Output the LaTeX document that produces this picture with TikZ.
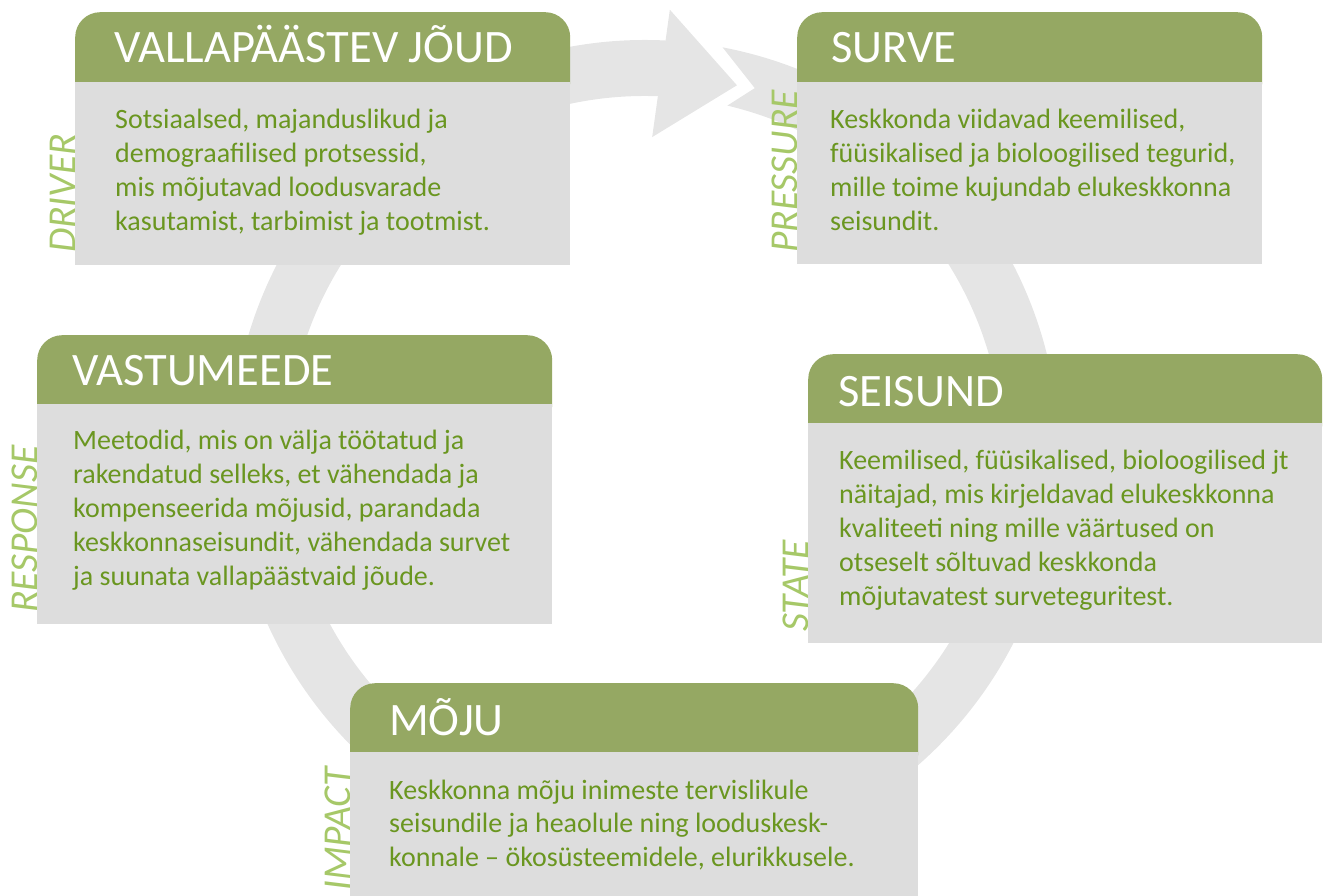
\documentclass[tikz,border=0pt]{standalone}
\usepackage{fontspec}
\setmainfont{Carlito}
\definecolor{headgreen}{RGB}{149,168,99}
\definecolor{panelgray}{RGB}{221,221,221}
\definecolor{textgreen}{RGB}{106,150,32}
\definecolor{taggreen}{RGB}{166,200,104}
\definecolor{ringgray}{RGB}{229,229,229}
\begin{document}
\begin{tikzpicture}[x=1pt, y=1pt,
    head/.style={fill=headgreen, rounded corners=25pt, minimum height=95pt, inner sep=0pt, anchor=north west},
    panel/.style={fill=panelgray, inner sep=0pt, anchor=north west},
    title/.style={text=white, font=\fontsize{46.5}{55}\selectfont, anchor=base west, inner sep=0pt},
    blurb/.style={text=textgreen, font=\fontsize{28}{33.8}\selectfont, align=left, anchor=base west, inner sep=0pt},
    tag/.style={text=taggreen, font=\itshape\fontsize{39.5}{46}\selectfont, rotate=90, anchor=base west, inner sep=0pt}]
    \useasboundingbox (0,0) rectangle (1328,895);
    % ring with arrow
    \fill[ringgray, shift={(645,441)}] (79.2:414) arc[start angle=79.2, end angle=-274, radius=414]
        -- (-274:358) arc[start angle=-274, end angle=76.7, radius=358] -- (73.3:382) -- cycle;
    \fill[ringgray, shift={(645,441)}] (86.8:445) -- (76:380) -- (88.7:317) -- cycle;
    % driver
    \node[tag] (drivertag) at (75,642) {DRIVER};
    \node[head, minimum width=495pt] (driverhead) at (75,883) {};
    \node[panel, minimum width=495pt, minimum height=183pt] (driverbody) at (75,813) {};
    \node[title] (drivertitle) at (114,832) {VALLAPÄÄSTEV JÕUD};
    \node[blurb] (drivertext) at (115,664.6) {Sotsiaalsed, majanduslikud ja\\demograafilised protsessid,\\mis mõjutavad loodusvarade\\kasutamist, tarbimist ja tootmist.};
    % pressure
    \node[tag] (pressuretag) at (797,642) {PRESSURE};
    \node[head, minimum width=465pt] (pressurehead) at (797,883) {};
    \node[panel, minimum width=465pt, minimum height=182pt] (pressurebody) at (797,813) {};
    \node[title] (pressuretitle) at (831,832) {SURVE};
    \node[blurb] (pressuretext) at (830,664.6) {Keskkonda viidavad keemilised,\\füüsikalised ja bioloogilised tegurid,\\mille toime kujundab elukeskkonna\\seisundit.};
    % response
    \node[tag] (responsetag) at (37,282) {RESPONSE};
    \node[head, minimum width=515pt] (responsehead) at (37,560) {};
    \node[panel, minimum width=515pt, minimum height=220pt] (responsebody) at (37,491) {};
    \node[title] (responsetitle) at (72,509) {VASTUMEEDE};
    \node[blurb] (responsetext) at (73,309.8) {Meetodid, mis on välja töötatud ja\\rakendatud selleks, et vähendada ja\\kompenseerida mõjusid, parandada\\keskkonnaseisundit, vähendada survet\\ja suunata vallapäästvaid jõude.};
    % state
    \node[tag] (statetag) at (808,263) {STATE};
    \node[head, minimum width=514pt] (statehead) at (808,541) {};
    \node[panel, minimum width=514pt, minimum height=220pt] (statebody) at (808,472) {};
    \node[title] (statetitle) at (838,488) {SEISUND};
    \node[blurb] (statetext) at (839,289.8) {Keemilised, füüsikalised, bioloogilised jt\\näitajad, mis kirjeldavad elukeskkonna\\kvaliteeti ning mille väärtused on\\otseselt sõltuvad keskkonda\\mõjutavatest surveteguritest.};
    % impact
    \node[tag] (impacttag) at (350,4) {IMPACT};
    \node[head, minimum width=568pt] (impacthead) at (350,212) {};
    \node[panel, minimum width=568pt, minimum height=170pt] (impactbody) at (350,143) {};
    \node[title] (impacttitle) at (389,160) {MÕJU};
    \node[blurb] (impacttext) at (389,28.4) {Keskkonna mõju inimeste tervislikule\\seisundile ja heaolule ning looduskesk-\\konnale – ökosüsteemidele, elurikkusele.};
\end{tikzpicture}
\end{document}
